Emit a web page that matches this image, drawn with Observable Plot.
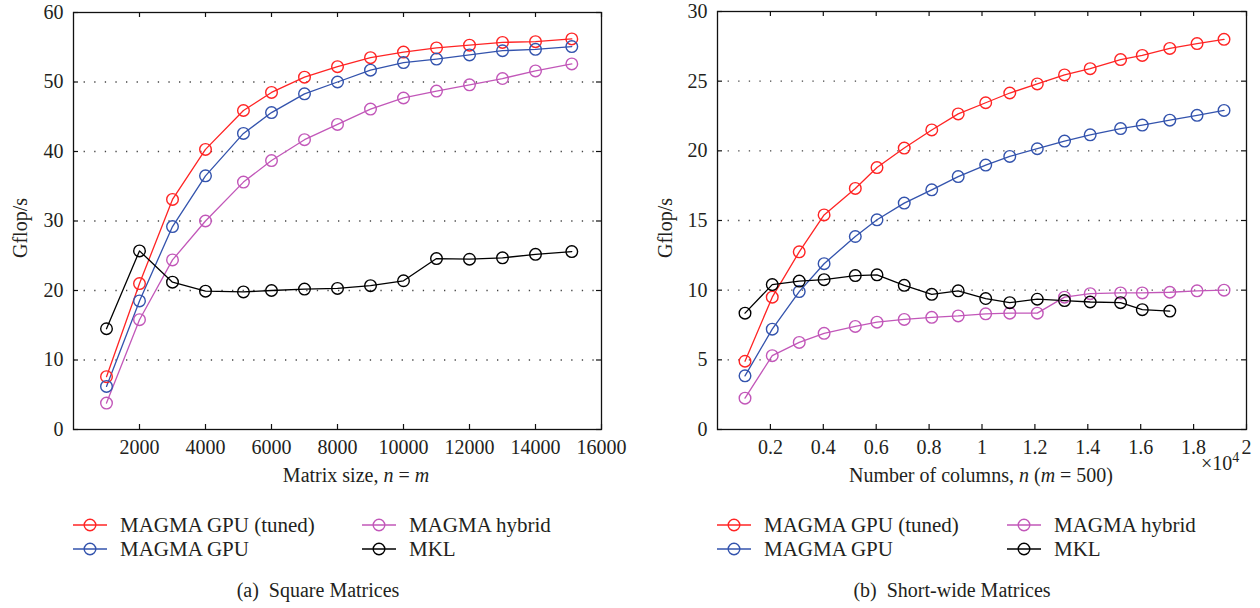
<!DOCTYPE html>
<html>
<head>
<meta charset="utf-8">
<script src="https://cdn.jsdelivr.net/npm/d3@7"></script>
<script src="https://cdn.jsdelivr.net/npm/@observablehq/plot@0.6"></script>
<style>
  html, body { margin: 0; padding: 0; background: #fff; }
  body { width: 1260px; height: 608px; position: relative; overflow: hidden;
         font-family: "Liberation Serif", "DejaVu Serif", serif; color: #231f20; }
  .panel { position: absolute; top: 0; }
  .legend { position: absolute; display: grid; grid-auto-rows: 24px; font-size: 21px; }
  .item { display: flex; align-items: center; white-space: nowrap; }
  .item svg { margin-right: 13px; flex: none; }
  .caption { position: absolute; top: 579px; font-size: 20px; text-align: center; white-space: pre; }
</style>
</head>
<body>
<div id="left" class="panel" style="left:0px"></div>
<div id="right" class="panel" style="left:630px"></div>
<div id="legendA" class="legend" style="left:73px; top:513px; grid-template-columns: 289px auto;"></div>
<div id="legendB" class="legend" style="left:717px; top:513px; grid-template-columns: 290px auto;"></div>
<div class="caption" style="left:0px; width:636px;">(a)  Square Matrices</div>
<div class="caption" style="left:640px; width:624px;">(b)  Short-wide Matrices</div>
<script>
// ---------- data ----------
const seriesNames = ["MAGMA GPU (tuned)", "MAGMA GPU", "MAGMA hybrid", "MKL"];
const seriesColors = ["#ff2424", "#3353ad", "#c257b9", "#000000"];
const legendOrder = ["MAGMA GPU (tuned)", "MAGMA hybrid", "MAGMA GPU", "MKL"];

// (a) Square matrices: matrix size n = m
const squareN = [1000, 2000, 3000, 4000, 5150, 6000, 7000, 8000, 9000, 10000, 11000, 12000, 13000, 14000, 15100];
const squareTuned  = [7.6, 21.0, 33.1, 40.3, 45.9, 48.5, 50.7, 52.2, 53.5, 54.3, 54.9, 55.3, 55.7, 55.8, 56.2];
const squareGPU    = [6.2, 18.5, 29.2, 36.5, 42.6, 45.6, 48.3, 50.0, 51.7, 52.8, 53.3, 53.9, 54.5, 54.7, 55.1];
const squareHybrid = [3.8, 15.8, 24.4, 30.0, 35.6, 38.7, 41.7, 43.9, 46.1, 47.7, 48.7, 49.6, 50.5, 51.6, 52.6];
const squareMKL    = [14.5, 25.7, 21.2, 19.9, 19.8, 20.0, 20.2, 20.3, 20.7, 21.4, 24.6, 24.5, 24.7, 25.2, 25.6];
const squareXTicks = [2000, 4000, 6000, 8000, 10000, 12000, 14000, 16000];
const squareYTicks = [0, 10, 20, 30, 40, 50, 60];

// (b) Short-wide matrices: number of columns n (m = 500)
const wideN = [1040, 2070, 3090, 4030, 5210, 6030, 7060, 8100, 9100, 10140, 11050, 12090, 13120, 14090, 15240, 16060, 17100, 18130, 19150];
const wideTuned  = [4.9, 9.5, 12.75, 15.4, 17.3, 18.8, 20.2, 21.5, 22.65, 23.45, 24.15, 24.8, 25.45, 25.9, 26.55, 26.85, 27.35, 27.7, 28.0];
const wideGPU    = [3.85, 7.2, 9.9, 11.9, 13.85, 15.05, 16.25, 17.2, 18.15, 18.98, 19.6, 20.15, 20.7, 21.15, 21.6, 21.85, 22.2, 22.55, 22.9];
const wideHybrid = [2.25, 5.3, 6.25, 6.9, 7.4, 7.7, 7.9, 8.05, 8.15, 8.3, 8.35, 8.35, 9.5, 9.75, 9.8, 9.8, 9.85, 9.95, 10.0];
const wideMKL    = [8.35, 10.4, 10.65, 10.75, 11.05, 11.1, 10.35, 9.7, 9.95, 9.4, 9.1, 9.35, 9.25, 9.15, 9.1, 8.6, 8.5];
const wideXTicks = [2000, 4000, 6000, 8000, 10000, 12000, 14000, 16000, 18000, 20000];
const wideYTicks = [0, 5, 10, 15, 20, 25, 30];

// ---------- helpers ----------
function table(xs, lists) {
  const rows = [];
  lists.forEach((vals, i) => vals.forEach((v, j) => rows.push({series: seriesNames[i], x: xs[j], y: v})));
  return rows;
}

function panel({data, xDomain, yDomain, xTicks, yTicks, xFormat, width, height, mt, mr, mb, ml}) {
  const innerH = height - mt - mb;
  const innerW = width - ml - mr;
  const grid = yTicks.slice(1, -1);
  const tk = 5;
  return Plot.plot({
    width, height,
    marginTop: mt, marginRight: mr, marginBottom: mb, marginLeft: ml,
    style: {fontFamily: "Liberation Serif, serif", fontSize: "20px", color: "#231f20", background: "white", overflow: "visible"},
    x: {domain: xDomain},
    y: {domain: yDomain},
    color: {domain: seriesNames, range: seriesColors},
    marks: [
      Plot.ruleY(grid, {stroke: "#444", strokeWidth: 1.3, strokeDasharray: "1.3,9.3"}),
      Plot.line(data, {x: "x", y: "y", z: "series", stroke: "series", strokeWidth: 1.3}),
      Plot.dot(data, {x: "x", y: "y", stroke: "series", fill: "none", r: 5.8, strokeWidth: 1.4}),
      Plot.tickX(xTicks, {x: d => d, insetTop: innerH - tk, stroke: "#111", strokeWidth: 1.2}),
      Plot.tickX(xTicks, {x: d => d, insetBottom: innerH - tk, stroke: "#111", strokeWidth: 1.2}),
      Plot.tickY(yTicks, {y: d => d, insetRight: innerW - tk, stroke: "#111", strokeWidth: 1.2}),
      Plot.tickY(yTicks, {y: d => d, insetLeft: innerW - tk, stroke: "#111", strokeWidth: 1.2}),
      Plot.axisX(xTicks, {anchor: "bottom", tickSize: 0, tickPadding: 10, tickFormat: xFormat, label: null, fontSize: 20}),
      Plot.axisY(yTicks, {anchor: "left", tickSize: 0, tickPadding: 10, tickFormat: d => String(d), label: null, fontSize: 20}),
      Plot.frame({stroke: "#111", strokeWidth: 1.3})
    ]
  });
}

function addText(svg, attrs, parts) {
  const t = d3.select(svg).append("text")
    .attr("fill", "#231f20")
    .style("font-family", "Liberation Serif, serif")
    .style("font-size", "20px");
  for (const [k, v] of Object.entries(attrs)) t.attr(k, v);
  parts.forEach(p => {
    const s = t.append("tspan").text(p.t);
    if (p.i) s.style("font-style", "italic");
    if (p.dy) s.attr("dy", p.dy);
    if (p.fs) s.style("font-size", p.fs);
  });
  return t;
}

// ---------- panel (a) ----------
const svgA = panel({
  data: table(squareN, [squareTuned, squareGPU, squareHybrid, squareMKL]),
  xDomain: [0, 16000], yDomain: [0, 60],
  xTicks: squareXTicks, yTicks: squareYTicks,
  xFormat: d => String(d),
  width: 620, height: 490, mt: 12, mr: 19, mb: 61, ml: 73
});
document.getElementById("left").appendChild(svgA);
addText(svgA, {x: 356, y: 482, "text-anchor": "middle"},
  [{t: "Matrix size, "}, {t: "n", i: true}, {t: " = "}, {t: "m", i: true}]);
addText(svgA, {transform: "translate(27,228) rotate(-90)", "text-anchor": "middle"}, [{t: "Gflop/s"}]);

// ---------- panel (b) ----------
const svgB = panel({
  data: table(wideN, [wideTuned, wideGPU, wideHybrid, wideMKL]),
  xDomain: [0, 20000], yDomain: [0, 30],
  xTicks: wideXTicks, yTicks: wideYTicks,
  xFormat: d => d3.format("~g")(d / 1e4),
  width: 630, height: 490, mt: 11, mr: 14, mb: 61, ml: 87
});
document.getElementById("right").appendChild(svgB);
addText(svgB, {x: 351, y: 482, "text-anchor": "middle"},
  [{t: "Number of columns, "}, {t: "n", i: true}, {t: " ("}, {t: "m", i: true}, {t: " = 500)"}]);
addText(svgB, {x: 571, y: 470, "text-anchor": "start"},
  [{t: "\u00d710"}, {t: "4", dy: -8, fs: "14px"}]);
addText(svgB, {transform: "translate(42,228) rotate(-90)", "text-anchor": "middle"}, [{t: "Gflop/s"}]);

// ---------- legends ----------
function buildLegend(id) {
  const box = d3.select("#" + id);
  legendOrder.forEach(name => {
    const color = seriesColors[seriesNames.indexOf(name)];
    const item = box.append("div").attr("class", "item");
    const sw = item.append("svg").attr("width", 34).attr("height", 16);
    sw.append("line").attr("x1", 0).attr("x2", 34).attr("y1", 8).attr("y2", 8)
      .attr("stroke", color).attr("stroke-width", 1.3);
    sw.append("circle").attr("cx", 17).attr("cy", 8).attr("r", 5.8)
      .attr("fill", "none").attr("stroke", color).attr("stroke-width", 1.4);
    item.append("span").text(name);
  });
}
buildLegend("legendA");
buildLegend("legendB");
</script>
</body>
</html>
